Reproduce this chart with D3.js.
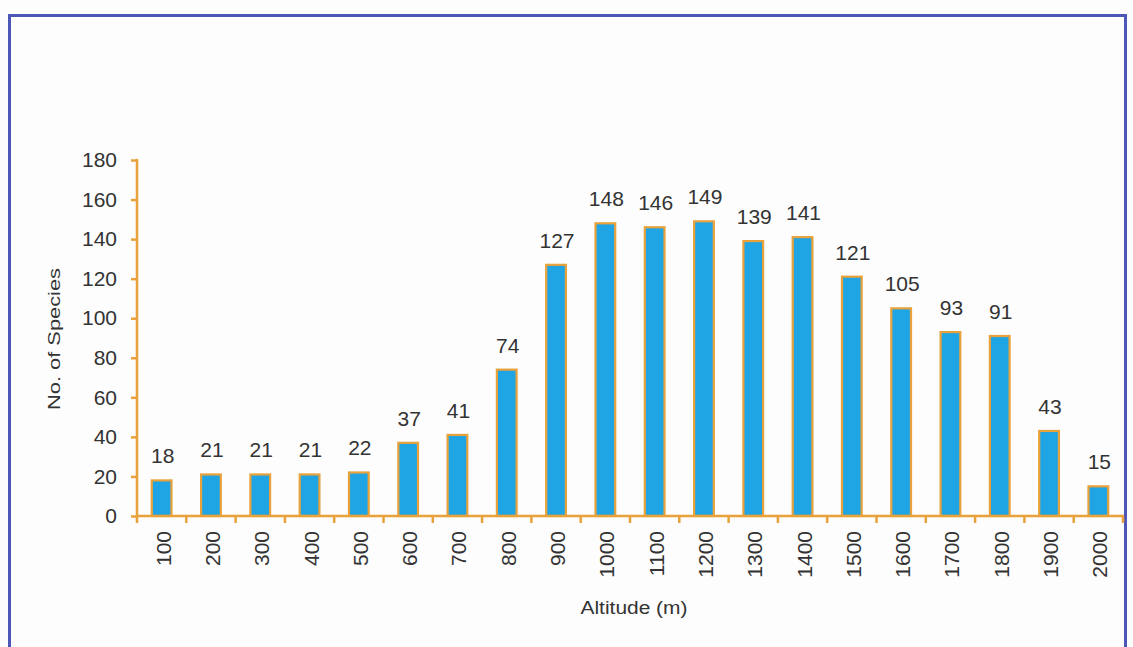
<!DOCTYPE html>
<html><head><meta charset="utf-8">
<script src="https://cdn.jsdelivr.net/npm/d3@7"></script>
<style>html,body{margin:0;padding:0;background:#fdfdfd;}svg{display:block;}</style>
</head><body>
<svg id="chart" width="1133" height="647"></svg>
<script>
const categories = ["100","200","300","400","500","600","700","800","900","1000","1100","1200","1300","1400","1500","1600","1700","1800","1900","2000"];
const values = [18,21,21,21,22,37,41,74,127,148,146,149,139,141,121,105,93,91,43,15];
const yTicks = [0,20,40,60,80,100,120,140,160,180];

(function(){
const svg = d3.select("#chart");
const axisColor = "#e9a23b";
const textColor = "#333333";
const font = "Liberation Sans, Arial, sans-serif";

// frame
svg.append("rect").attr("x",9.5).attr("y",15.5).attr("width",1116).attr("height",660)
  .attr("fill","none").attr("stroke","#4d57b8").attr("stroke-width",3);

const pLeft = 137, pRight = 1123, pTop = 160, pBottom = 516;
const x = d3.scaleBand().domain(categories).range([pLeft,pRight]).paddingInner(0).paddingOuter(0);
const y = d3.scaleLinear().domain([0,180]).range([pBottom, pTop]);
const barW = x.bandwidth()*0.40;

// bars
svg.append("g").selectAll("rect").data(values).join("rect")
  .attr("x",(d,i)=>x(categories[i])+x.bandwidth()/2-barW/2)
  .attr("y",d=>y(d))
  .attr("width",barW)
  .attr("height",d=>y(0)-y(d))
  .attr("fill","#1fa5e4")
  .attr("stroke","#e9a23b").attr("stroke-width",2.2);

// value labels
svg.append("g").selectAll("text").data(values).join("text")
  .attr("x",(d,i)=>x(categories[i])+x.bandwidth()/2+1)
  .attr("y",d=>y(d)-17)
  .attr("text-anchor","middle")
  .attr("font-family",font)
  .attr("font-size",21).attr("fill",textColor)
  .text(d=>d);

// y axis
const yAxis = svg.append("g").attr("transform",`translate(${pLeft},0)`)
  .call(d3.axisLeft(y).tickValues(yTicks).tickSize(6).tickPadding(14));
yAxis.select(".domain").attr("stroke",axisColor).attr("stroke-width",2.5).attr("d",`M0,${pTop-1}V${pBottom}`);
yAxis.selectAll(".tick line").attr("stroke",axisColor).attr("stroke-width",2.5);
yAxis.selectAll(".tick text").attr("font-family",font)
  .attr("font-size",21).attr("fill",textColor);

// x axis
const xg = svg.append("g").attr("transform",`translate(0,${pBottom})`);
xg.append("line").attr("x1",pLeft).attr("x2",pRight+1).attr("y1",0).attr("y2",0)
  .attr("stroke",axisColor).attr("stroke-width",2.5);
const boundaries = d3.range(categories.length+1).map(i=>pLeft+i*x.bandwidth());
xg.selectAll("line.tk").data(boundaries).join("line").attr("class","tk")
  .attr("x1",d=>d).attr("x2",d=>d).attr("y1",0).attr("y2",7)
  .attr("stroke",axisColor).attr("stroke-width",2.5);
xg.selectAll("text").data(categories).join("text")
  .attr("transform",d=>`translate(${x(d)+x.bandwidth()/2+9},15) rotate(-90)`)
  .attr("text-anchor","end")
  .attr("font-family",font)
  .attr("font-size",21).attr("fill",textColor)
  .text(d=>d);

// axis titles
svg.append("text").attr("transform","translate(60,339) rotate(-90)")
  .attr("text-anchor","middle").attr("font-family",font)
  .attr("font-size",17).attr("fill",textColor)
  .attr("textLength",142).attr("lengthAdjust","spacingAndGlyphs")
  .text("No. of Species");
svg.append("text").attr("x",634).attr("y",614)
  .attr("text-anchor","middle").attr("font-family",font)
  .attr("font-size",18).attr("fill",textColor)
  .attr("textLength",107).attr("lengthAdjust","spacingAndGlyphs")
  .text("Altitude (m)");
})();
</script>
</body></html>
